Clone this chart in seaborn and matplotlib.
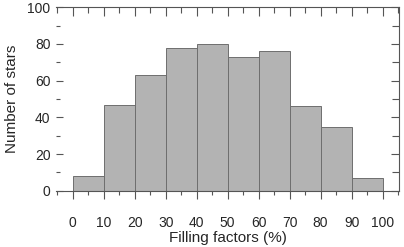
import numpy as np
import pandas as pd
import matplotlib
matplotlib.use("Agg")
import matplotlib.pyplot as plt
import seaborn as sns
from matplotlib.ticker import MultipleLocator

bin_starts = [0, 10, 20, 30, 40, 50, 60, 70, 80, 90]
counts = [8, 47, 63, 78, 80, 73, 76, 46, 35, 7]
bin_edges = [0, 10, 20, 30, 40, 50, 60, 70, 80, 90, 100]
x_ticks = [0, 10, 20, 30, 40, 50, 60, 70, 80, 90, 100]
y_ticks = [0, 20, 40, 60, 80, 100]

df = pd.DataFrame({"ff": [b + 5 for b in bin_starts], "n": counts})

sns.set_style("white")
plt.rcParams["font.family"] = ["Liberation Sans", "DejaVu Sans"]

fig = plt.figure(figsize=(4.04, 2.47), dpi=100)
ax = fig.add_axes([56/404, 1-190.7/247, (399-56)/404, (190.7-7.3)/247])

sns.histplot(data=df, x="ff", weights="n", bins=bin_edges, ax=ax,
             color="#b3b3b3", alpha=1, edgecolor="#6e6e6e", linewidth=0.7)

ax.set_xlim(-5.4, 105.3)
ax.set_ylim(0, 100)
ax.set_xticks(x_ticks)
ax.set_yticks(y_ticks)
ax.xaxis.set_minor_locator(MultipleLocator(5))
ax.yaxis.set_minor_locator(MultipleLocator(10))

for s in ["top", "bottom", "right"]:
    ax.spines[s].set_color("#555555")
    ax.spines[s].set_linewidth(0.8)
ax.spines["left"].set_visible(False)

lc = "#555555"
ax.tick_params(axis="x", which="major", direction="out", length=6, width=0.8,
               color=lc, labelsize=10, pad=12, bottom=True, top=False)
ax.tick_params(axis="x", which="minor", direction="out", length=3, width=0.8,
               color=lc, bottom=True, top=False)
ax.tick_params(axis="y", which="major", direction="in", length=5, width=0.8,
               color=lc, labelsize=10, pad=4, left=True, right=False)
ax.tick_params(axis="y", which="minor", direction="in", length=3, width=0.8,
               color=lc, left=True, right=False)

sec_x = ax.secondary_xaxis("top")
sec_x.set_xticks(x_ticks)
sec_x.xaxis.set_minor_locator(MultipleLocator(5))
sec_x.tick_params(which="major", direction="in", length=6.5, width=0.8, color=lc, labeltop=False)
sec_x.tick_params(which="minor", direction="in", length=4.5, width=0.8, color=lc)
sec_x.spines["top"].set_visible(False)

sec_y = ax.secondary_yaxis("right")
sec_y.set_yticks(y_ticks)
sec_y.yaxis.set_minor_locator(MultipleLocator(10))
sec_y.tick_params(which="major", direction="in", length=6, width=0.8, color=lc, labelright=False)
sec_y.tick_params(which="minor", direction="in", length=5, width=0.8, color=lc)
sec_y.spines["right"].set_visible(False)

ax.set_xlabel("Filling factors (%)", fontsize=11, labelpad=1)
ax.set_ylabel("Number of stars", fontsize=11, labelpad=6)

fig.savefig("out.png", dpi=100)
